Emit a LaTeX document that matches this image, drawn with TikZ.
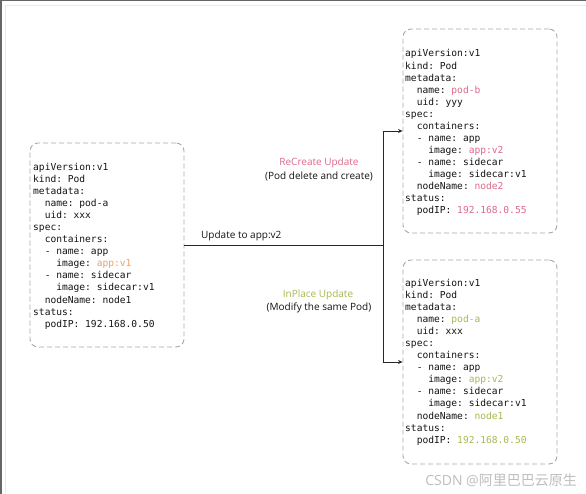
\documentclass[tikz,border=0pt]{standalone}
\usepackage{fontspec}
\setmainfont{Open Sans}
\setmonofont{DejaVu Sans Mono}
\newfontfamily\cjkfont{Noto Sans CJK SC}
\usetikzlibrary{arrows.meta}
\definecolor{dashgray}{HTML}{A8A8A8}
\definecolor{pinkc}{HTML}{DC6A8A}
\definecolor{orangec}{HTML}{F0A060}
\definecolor{olivec}{HTML}{A8B850}
\definecolor{textc}{HTML}{141414}
\definecolor{wmgray}{HTML}{BEBEBE}
\newcommand{\ind}[1]{\hphantom{#1}}
\tikzset{
  podbox/.style={draw=dashgray, line width=0.9bp, dash pattern=on 5bp off 3bp,
    rounded corners=8bp, minimum width=154bp, minimum height=204bp, inner sep=0pt},
  yaml/.style={anchor=north west, align=left, inner sep=0pt, text=textc,
    font=\fontsize{9.6bp}{12.05bp}\selectfont\ttfamily},
  lbl/.style={inner sep=0pt, text=textc, font=\fontsize{10bp}{13bp}\selectfont, align=center},
  conn/.style={draw=black!85, line width=0.8bp},
  arr/.style={conn, -{Stealth[length=4.5bp,width=4bp]}}
}
\begin{document}
\begin{tikzpicture}[x=1bp,y=-1bp]
\useasboundingbox (0,0) rectangle (586,494);
\fill[white] (0,0) rectangle (586,494);
% screenshot frame
\draw[black!60, line width=1.5bp] (0.75,494) -- (0.75,0.75) -- (586,0.75);
\draw[black!8, line width=0.8bp] (5,494) -- (5,5) -- (586,5);

% boxes
\node[podbox] (podA) at (107,245) {};
\node[podbox] (podB) at (480,131) {};
\node[podbox] (podC) at (480,362) {};

% yaml texts
\node[yaml] (podAtext) at (33,163) {apiVersion:v1\\
kind: Pod\\
metadata:\\
\ind{xx}name: pod-a\\
\ind{xx}uid: xxx\\
spec:\\
\ind{xx}containers:\\
\ind{xx}- name: app\\
\ind{xxxx}image: \textcolor{orangec}{app:v1}\\
\ind{xx}- name: sidecar\\
\ind{xxxx}image: sidecar:v1\\
\ind{xx}nodeName: node1\\
status:\\
\ind{xx}podIP: 192.168.0.50};

\node[yaml] (podBtext) at (405,49.5) {apiVersion:v1\\
kind: Pod\\
metadata:\\
\ind{xx}name: \textcolor{pinkc}{pod-b}\\
\ind{xx}uid: yyy\\
spec:\\
\ind{xx}containers:\\
\ind{xx}- name: app\\
\ind{xxxx}image: \textcolor{pinkc}{app:v2}\\
\ind{xx}- name: sidecar\\
\ind{xxxx}image: sidecar:v1\\
\ind{xx}nodeName: \textcolor{pinkc}{node2}\\
status:\\
\ind{xx}podIP: \textcolor{pinkc}{192.168.0.55}};

\node[yaml] (podCtext) at (405,279) {apiVersion:v1\\
kind: Pod\\
metadata:\\
\ind{xx}name: \textcolor{olivec}{pod-a}\\
\ind{xx}uid: xxx\\
spec:\\
\ind{xx}containers:\\
\ind{xx}- name: app\\
\ind{xxxx}image: \textcolor{olivec}{app:v2}\\
\ind{xx}- name: sidecar\\
\ind{xxxx}image: sidecar:v1\\
\ind{xx}nodeName: \textcolor{olivec}{node1}\\
status:\\
\ind{xx}podIP: \textcolor{olivec}{192.168.0.50}};

% connectors
\coordinate (j) at (383,245);
\draw[conn] (podA.east) -- (j);
\draw[arr] (j) |- (podB.west);
\draw[arr] (j) |- (podC.west);

% labels
\node[lbl, anchor=south west] (upd) at (201,241) {Update to app:v2};
\node[lbl] (rec) at (319,163) {\textcolor{pinkc}{ReCreate Update}};
\node[lbl] (recd) at (319,176) {(Pod delete and create)};
\node[lbl] (inp) at (318,295) {\textcolor{olivec}{InPlace Update}};
\node[lbl] (inpd) at (319,308) {(Modify the same Pod)};

% watermark
\node[inner sep=0pt, anchor=east, text=wmgray, font=\fontsize{14bp}{16bp}\selectfont] (wm) at (577,480) {CSDN @\cjkfont 阿里巴巴云原生};
\end{tikzpicture}
\end{document}
